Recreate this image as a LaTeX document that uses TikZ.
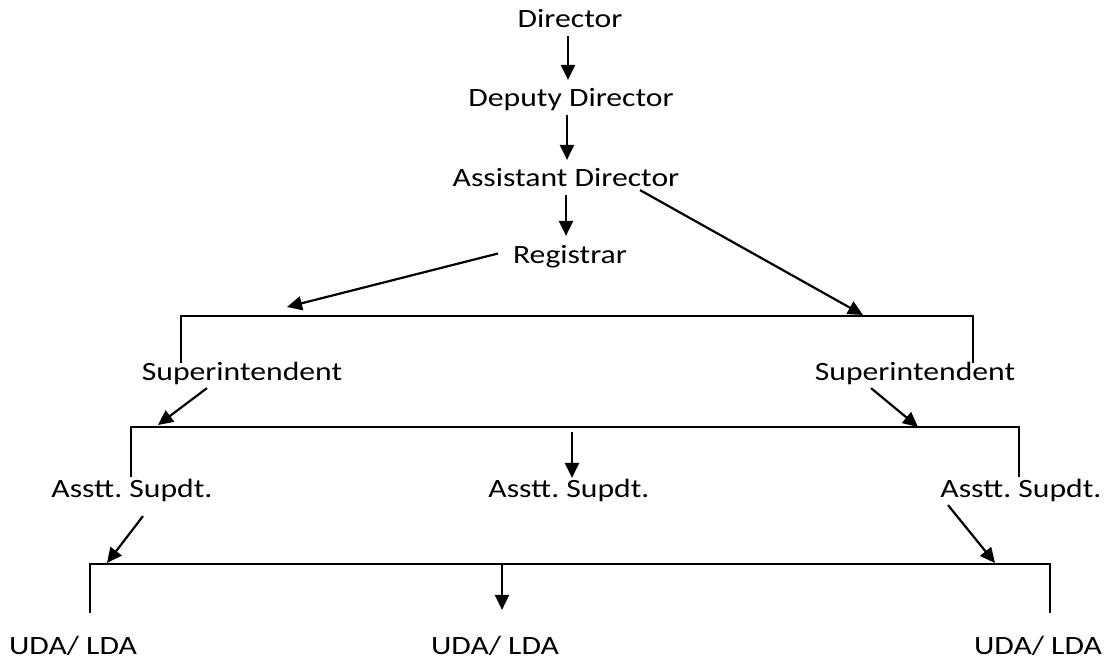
\documentclass[tikz,border=0pt]{standalone}
\usepackage{fontspec}
\setmainfont{Carlito}[FakeStretch=1.2]
\usepackage{tikz}
\usetikzlibrary{arrows.meta}
\usetikzlibrary{positioning}
\frenchspacing

\begin{document}
\begin{tikzpicture}[x=1pt,y=-1pt,line width=2.2pt,
  ps/.style={anchor=base,inner sep=2pt,text height=24pt,text depth=5pt,font=\fontsize{26.4}{30}\selectfont},
  ar/.style={-{Triangle[length=15pt,width=14pt]}},
  bs/.style={line width=2pt}]
\useasboundingbox (0,0) rectangle (1106,663);
\node (dir) [ps] at (570,28) {Director};
\node (dep) [ps] at (571,107) {Deputy Director};
\node (asd) [ps] at (566,187) {Assistant Director};
\node (reg) [ps] at (570,263) {Registrar};
\node (sl) [ps] at (242,380) {Superintendent};
\node (sr) [ps] at (915,380) {Superintendent};
\node (al) [ps] at (132,497) {Asstt. Supdt.};
\node (am) [ps] at (569,497) {Asstt. Supdt.};
\node (ag) [ps] at (1021,497) {Asstt. Supdt.};
\node (ul) [ps] at (73,654) {UDA/ LDA};
\node (um) [ps] at (495,654) {UDA/ LDA};
\node (ug) [ps] at (1038,654) {UDA/ LDA};
% brackets
\draw[bs] (181,363) -- (181,316) -- (973,316) -- (973,363);
\draw[bs] (131,477) -- (131,427) -- (1019,427) -- (1019,477);
\draw[bs] (90,613) -- (90,564) -- (1050,564) -- (1050,613);
\coordinate (t1) at (287,307);
\coordinate (t2) at (863,315);
\coordinate (t3) at (158,425);
\coordinate (t4) at (918,427);
\coordinate (m2) at (572,432);
\coordinate (t5) at (107,563);
\coordinate (m3) at (502,563);
\coordinate (t6) at (995,563);
\draw[ar] ([xshift=-2pt]dir.south) -- ([xshift=-2pt]dir.south |- dep.north);
\draw[ar] ([xshift=-4pt]dep.south) -- ([xshift=-4pt]dep.south |- asd.north);
\draw[ar] (asd.south) -- (asd.south |- reg.north);
\draw[ar] ([xshift=74pt,yshift=5pt]asd.south) -- (t2);
\draw[ar] ([xshift=-12pt]reg.west) -- (t1);
\draw[ar] ([xshift=-35pt]sl.south) -- (t3);
\draw[ar] ([xshift=-44pt]sr.south) -- (t4);
\draw[ar] (m2) -- ([xshift=3pt,yshift=-8pt]am.north);
\draw[ar] ([xshift=11pt,yshift=-11pt]al.south) -- (t5);
\draw[ar] ([xshift=-73pt]ag.south) -- (t6);
\draw[ar] (m3) -- ([xshift=7pt,yshift=17pt]um.north);
\end{tikzpicture}
\end{document}
